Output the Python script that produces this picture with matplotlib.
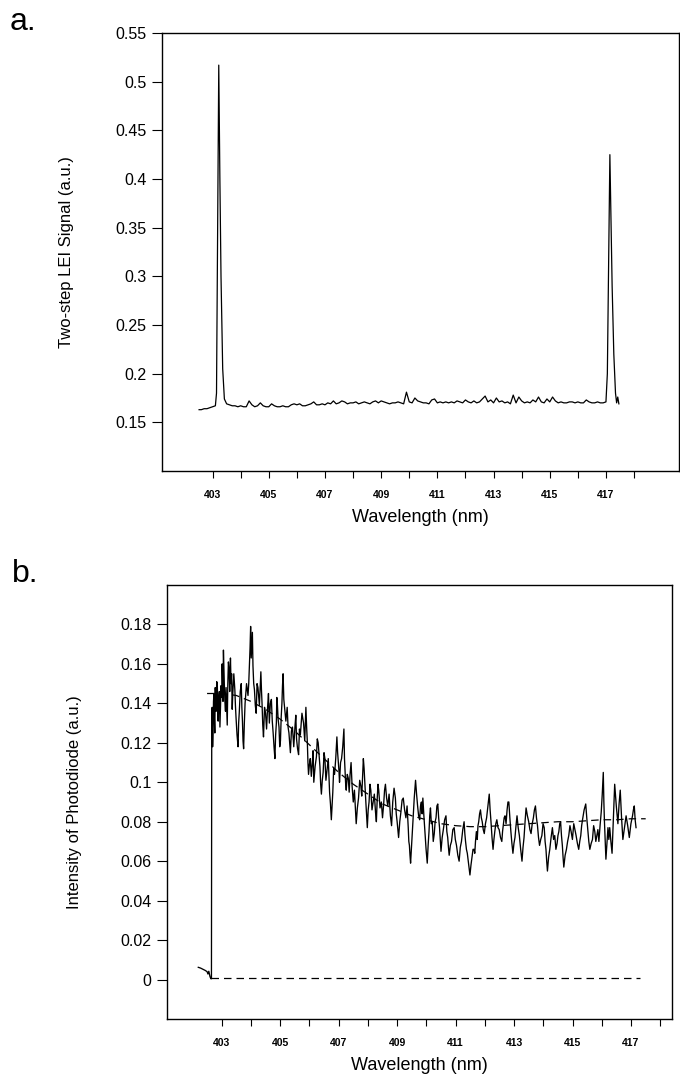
import numpy as np
import matplotlib
matplotlib.use('Agg')
import matplotlib.pyplot as plt

plt.rcParams['font.family'] = ['Liberation Sans', 'DejaVu Sans']

# ---- panel a: two-step LEI signal ----
peak1_wl = [402.52, 402.6, 402.7, 402.8, 402.9, 403.0, 403.1, 403.14, 403.18,
            403.22, 403.26, 403.30, 403.36, 403.42]
peak1_sig = [0.163, 0.163, 0.164, 0.164, 0.165, 0.166, 0.167, 0.180, 0.350,
             0.517, 0.400, 0.300, 0.205, 0.174]

base_wl = np.round(np.arange(403.5, 416.95, 0.1), 2)
base_sig = [0.169, 0.168, 0.167, 0.167, 0.166, 0.167, 0.166, 0.166, 0.172, 0.168,
            0.166, 0.167, 0.170, 0.167, 0.166, 0.166, 0.169, 0.167, 0.166, 0.166,
            0.167, 0.166, 0.166, 0.168, 0.169, 0.168, 0.169, 0.167, 0.167, 0.168,
            0.169, 0.171, 0.168, 0.168, 0.169, 0.168, 0.170, 0.169, 0.172, 0.169,
            0.170, 0.172, 0.171, 0.169, 0.170, 0.170, 0.171, 0.169, 0.170, 0.171,
            0.170, 0.169, 0.171, 0.172, 0.170, 0.172, 0.171, 0.170, 0.169, 0.170,
            0.170, 0.171, 0.170, 0.169, 0.181, 0.171, 0.170, 0.175, 0.172, 0.171,
            0.170, 0.170, 0.169, 0.173, 0.174, 0.170, 0.171, 0.170, 0.171, 0.170,
            0.171, 0.170, 0.172, 0.171, 0.170, 0.173, 0.171, 0.170, 0.172, 0.170,
            0.171, 0.174, 0.177, 0.171, 0.173, 0.170, 0.175, 0.171, 0.172, 0.170,
            0.171, 0.169, 0.178, 0.170, 0.176, 0.172, 0.170, 0.171, 0.170, 0.173,
            0.171, 0.176, 0.171, 0.170, 0.174, 0.171, 0.176, 0.172, 0.170, 0.171,
            0.170, 0.170, 0.171, 0.171, 0.170, 0.171, 0.170, 0.170, 0.173, 0.171,
            0.170, 0.170, 0.171, 0.170, 0.170]

peak2_wl = [417.0, 417.05, 417.1, 417.14, 417.18, 417.22, 417.28, 417.34,
            417.38, 417.42, 417.46]
peak2_sig = [0.171, 0.200, 0.330, 0.425, 0.360, 0.290, 0.220, 0.180,
             0.170, 0.176, 0.169]

# ---- panel b: photodiode intensity ----
# part before the light comes on
pre_wl = [402.20, 402.28, 402.36, 402.44, 402.50, 402.53, 402.56, 402.60, 402.63, 402.65]
pre_sig = [0.0062, 0.0058, 0.0052, 0.0046, 0.0040, 0.0028, 0.0042, 0.0015, 0.0004, 0.0004]

pd_wl = [402.66, 402.69, 402.72, 402.75, 402.78, 402.81, 402.85, 402.88, 402.92, 402.96,
         403.00, 403.03, 403.06, 403.09, 403.13, 403.17, 403.21, 403.25, 403.30, 403.34,
         403.38, 403.45, 403.49, 403.56, 403.60, 403.67, 403.71, 403.75, 403.80, 403.90,
         403.95, 403.99, 404.03, 404.07, 404.12, 404.18, 404.24, 404.34, 404.38, 404.43,
         404.50, 404.57, 404.63, 404.70, 404.76, 404.82, 404.87, 404.90, 404.96, 405.01,
         405.06, 405.10, 405.15, 405.24, 405.30, 405.35, 405.42, 405.51, 405.56, 405.63,
         405.69, 405.80, 405.88, 405.93, 405.97, 406.03, 406.10, 406.15, 406.24, 406.30,
         406.36, 406.41, 406.47, 406.53, 406.60, 406.69, 406.75, 406.80, 406.86, 406.94,
         406.99, 407.03, 407.10, 407.18, 407.22, 407.26, 407.33, 407.39, 407.46, 407.54,
         407.60, 407.68, 407.76, 407.82, 407.87, 407.93, 407.98, 408.04, 408.10, 408.18,
         408.26, 408.32, 408.37, 408.46, 408.54, 408.60, 408.68, 408.77, 408.85, 408.94,
         409.00, 409.05, 409.13, 409.21, 409.30, 409.38, 409.42, 409.46, 409.54, 409.63,
         409.70, 409.77, 409.83, 409.88, 409.95, 410.03, 410.09, 410.14, 410.20, 410.27,
         410.33, 410.39, 410.45, 410.50, 410.58, 410.67, 410.73, 410.78, 410.86, 410.95,
         411.03, 411.12, 411.20, 411.29, 411.34, 411.40, 411.45, 411.49, 411.56, 411.63,
         411.68, 411.74, 411.79, 411.85, 411.91, 411.98, 412.06, 412.15, 412.21, 412.28,
         412.34, 412.41, 412.49, 412.58, 412.63, 412.69, 412.76, 412.82, 412.89, 412.96,
         413.03, 413.10, 413.18, 413.27, 413.34, 413.41, 413.50, 413.58, 413.66, 413.73,
         413.80, 413.87, 413.95, 414.03, 414.09, 414.14, 414.22, 414.31, 414.39, 414.47,
         414.53, 414.59, 414.65, 414.70, 414.79, 414.87, 414.95, 415.04, 415.12, 415.21,
         415.28, 415.34, 415.45, 415.52, 415.59, 415.68, 415.76, 415.83, 415.90, 415.98,
         416.05, 416.09, 416.14, 416.21, 416.27, 416.35, 416.44, 416.55, 416.63, 416.72,
         416.83, 416.94, 417.05, 417.11, 417.17]
pd_sig = [0.127, 0.118, 0.141, 0.132, 0.148, 0.136, 0.150, 0.131, 0.146, 0.139,
          0.143, 0.152, 0.167, 0.150, 0.136, 0.139, 0.150, 0.158, 0.163, 0.155,
          0.145, 0.147, 0.133, 0.118, 0.135, 0.150, 0.131, 0.117, 0.140, 0.144,
          0.160, 0.179, 0.170, 0.159, 0.147, 0.135, 0.148, 0.156, 0.140, 0.123,
          0.135, 0.138, 0.130, 0.142, 0.125, 0.112, 0.130, 0.141, 0.128, 0.121,
          0.140, 0.155, 0.138, 0.138, 0.125, 0.115, 0.128, 0.129, 0.122, 0.114,
          0.124, 0.130, 0.138, 0.120, 0.104, 0.112, 0.110, 0.100, 0.113, 0.120,
          0.108, 0.094, 0.105, 0.112, 0.106, 0.095, 0.081, 0.095, 0.104, 0.123,
          0.110, 0.100, 0.112, 0.127, 0.105, 0.096, 0.102, 0.104, 0.098, 0.096,
          0.079, 0.092, 0.098, 0.104, 0.107, 0.090, 0.077, 0.090, 0.096, 0.090,
          0.085, 0.092, 0.096, 0.090, 0.089, 0.099, 0.088, 0.083, 0.090, 0.092,
          0.080, 0.072, 0.085, 0.092, 0.082, 0.077, 0.068, 0.059, 0.080, 0.101,
          0.088, 0.081, 0.090, 0.092, 0.075, 0.059, 0.075, 0.087, 0.080, 0.074,
          0.082, 0.089, 0.077, 0.065, 0.076, 0.083, 0.072, 0.063, 0.070, 0.077,
          0.068, 0.060, 0.070, 0.080, 0.070, 0.064, 0.058, 0.053, 0.062, 0.066,
          0.070, 0.071, 0.080, 0.086, 0.080, 0.074, 0.082, 0.094, 0.080, 0.066,
          0.075, 0.081, 0.076, 0.070, 0.078, 0.083, 0.086, 0.090, 0.075, 0.064,
          0.072, 0.083, 0.073, 0.060, 0.072, 0.087, 0.080, 0.074, 0.082, 0.088,
          0.078, 0.068, 0.073, 0.077, 0.066, 0.055, 0.066, 0.077, 0.073, 0.069,
          0.075, 0.080, 0.068, 0.057, 0.066, 0.073, 0.075, 0.079, 0.073, 0.066,
          0.073, 0.081, 0.089, 0.076, 0.066, 0.071, 0.075, 0.073, 0.070, 0.085,
          0.105, 0.080, 0.061, 0.077, 0.077, 0.064, 0.099, 0.079, 0.096, 0.071,
          0.083, 0.072, 0.083, 0.088, 0.077]
# readings taken half way between the samples above
pd_mid_sig = [0.138, 0.126, 0.145, 0.125, 0.140, 0.151, 0.138, 0.142, 0.128, 0.149,
              0.160, 0.141, 0.158, 0.141, 0.148, 0.129, 0.161, 0.146, 0.150, 0.137,
              0.155, 0.139, 0.124, 0.130, 0.146, 0.138, 0.121, 0.130, 0.150, 0.150,
              0.168, 0.163, 0.176, 0.150, 0.139, 0.150, 0.139, 0.147, 0.129, 0.138,
              0.127, 0.145, 0.140, 0.131, 0.118, 0.124, 0.143, 0.132, 0.118, 0.133,
              0.149, 0.142, 0.131, 0.128, 0.120, 0.126, 0.118, 0.134, 0.117, 0.127,
              0.135, 0.121, 0.128, 0.110, 0.109, 0.103, 0.116, 0.108, 0.122, 0.114,
              0.099, 0.101, 0.115, 0.101, 0.112, 0.089, 0.088, 0.107, 0.112, 0.115,
              0.106, 0.110, 0.118, 0.112, 0.099, 0.104, 0.095, 0.110, 0.090, 0.088,
              0.087, 0.101, 0.093, 0.112, 0.098, 0.083, 0.086, 0.099, 0.086, 0.094,
              0.080, 0.099, 0.087, 0.082, 0.096, 0.092, 0.094, 0.078, 0.097, 0.084,
              0.076, 0.080, 0.091, 0.086, 0.088, 0.070, 0.063, 0.070, 0.092, 0.094,
              0.083, 0.088, 0.084, 0.083, 0.066, 0.068, 0.083, 0.079, 0.070, 0.080,
              0.088, 0.082, 0.071, 0.072, 0.081, 0.075, 0.067, 0.068, 0.076, 0.071,
              0.063, 0.067, 0.076, 0.074, 0.066, 0.061, 0.056, 0.058, 0.066, 0.064,
              0.075, 0.078, 0.084, 0.082, 0.076, 0.079, 0.088, 0.086, 0.072, 0.071,
              0.079, 0.077, 0.072, 0.075, 0.082, 0.079, 0.090, 0.082, 0.069, 0.069,
              0.078, 0.077, 0.066, 0.067, 0.080, 0.083, 0.076, 0.079, 0.086, 0.082,
              0.072, 0.071, 0.079, 0.070, 0.060, 0.062, 0.072, 0.071, 0.066, 0.073,
              0.079, 0.073, 0.062, 0.063, 0.070, 0.078, 0.071, 0.076, 0.069, 0.070,
              0.078, 0.086, 0.082, 0.070, 0.069, 0.078, 0.070, 0.076, 0.078, 0.094,
              0.090, 0.070, 0.069, 0.071, 0.070, 0.082, 0.088, 0.089, 0.082, 0.077,
              0.078, 0.079, 0.086, 0.081]

# smooth fit (dashed) and zero line
fit_wl = [402.5, 403.0, 403.5, 404.0, 404.5, 405.0, 405.5, 406.0, 406.5, 407.0,
          407.5, 408.0, 408.5, 409.0, 409.5, 410.0, 410.5, 411.0, 411.5, 412.0,
          412.5, 413.0, 413.5, 414.0, 414.5, 415.0, 415.5, 416.0, 416.5, 417.0, 417.5]
fit_sig = [0.145, 0.145, 0.144, 0.141, 0.137, 0.132, 0.126, 0.119, 0.112, 0.105,
           0.099, 0.094, 0.089, 0.086, 0.083, 0.081, 0.079, 0.078, 0.0775, 0.0775,
           0.078, 0.0785, 0.079, 0.0795, 0.080, 0.080, 0.0805, 0.081, 0.081, 0.0815, 0.0815]
zero_wl = [402.62, 417.3]
zero_sig = [0.0008, 0.0008]

wl_ticks = list(range(403, 419))
wl_labels = [str(t) if t % 2 == 1 else '' for t in wl_ticks]
a_yticks = [0.15, 0.2, 0.25, 0.3, 0.35, 0.4, 0.45, 0.5, 0.55]
a_ylabels = ['0.15', '0.2', '0.25', '0.3', '0.35', '0.4', '0.45', '0.5', '0.55']
b_yticks = [0, 0.02, 0.04, 0.06, 0.08, 0.1, 0.12, 0.14, 0.16, 0.18]
b_ylabels = ['0', '0.02', '0.04', '0.06', '0.08', '0.1', '0.12', '0.14', '0.16', '0.18']

fig = plt.figure(figsize=(6.8, 10.87), dpi=100)
W, H = 680, 1087


def add_ax(l, t, r, b):
    return fig.add_axes([l / W, 1 - b / H, (r - l) / W, (b - t) / H])


def style(ax, yt, yl):
    ax.set_xticks(wl_ticks)
    ax.set_xticklabels(wl_labels, fontsize=7.5, fontweight='bold')
    ax.set_yticks(yt)
    ax.set_yticklabels(yl, fontsize=11.5)
    ax.tick_params(axis='x', direction='out', length=5, width=0.8, pad=9)
    ax.tick_params(axis='y', direction='out', length=7, width=0.8, pad=4)
    for s in ax.spines.values():
        s.set_linewidth(1.0)
    ax.set_xlabel('Wavelength (nm)', fontsize=13, labelpad=6)


# panel a
ax1 = add_ax(162, 33, 679, 471)
wl_a = np.concatenate([peak1_wl, base_wl, peak2_wl])
sig_a = np.concatenate([peak1_sig, base_sig, peak2_sig])
ax1.plot(wl_a, sig_a, color='black', lw=0.9)
ax1.set_xlim(401.2, 419.6)
ax1.set_ylim(0.1, 0.55)
style(ax1, a_yticks, a_ylabels)
ax1.set_ylabel('Two-step LEI Signal (a.u.)', fontsize=12)
ax1.yaxis.set_label_coords(-0.170, 0.5)

# panel b: merge samples with the half-way readings
w = np.array(pd_wl)
mid_wl = (w[:-1] + w[1:]) / 2
n = len(w) + len(mid_wl)
wl_b = np.empty(n)
sig_b = np.empty(n)
wl_b[0::2], sig_b[0::2] = w, pd_sig
wl_b[1::2], sig_b[1::2] = mid_wl, pd_mid_sig
wl_b = np.concatenate([pre_wl, wl_b])
sig_b = np.concatenate([pre_sig, sig_b])

ax2 = add_ax(167, 585, 672, 1019)
ax2.plot(wl_b, sig_b, color='black', lw=0.95)
ax2.plot(fit_wl, fit_sig, color='black', lw=0.9, dashes=(6, 4))
ax2.plot(zero_wl, zero_sig, color='black', lw=0.9, dashes=(6, 4))
ax2.set_xlim(401.13, 418.4)
ax2.set_ylim(-0.02, 0.2)
style(ax2, b_yticks, b_ylabels)
ax2.set_ylabel('Intensity of Photodiode (a.u.)', fontsize=12)
ax2.yaxis.set_label_coords(-0.168, 0.5)

fig.text(10 / W, 1 - 30 / H, 'a.', fontsize=23, va='baseline')
fig.text(12 / W, 1 - 582 / H, 'b.', fontsize=23, va='baseline')

fig.savefig('out.png', dpi=100)
